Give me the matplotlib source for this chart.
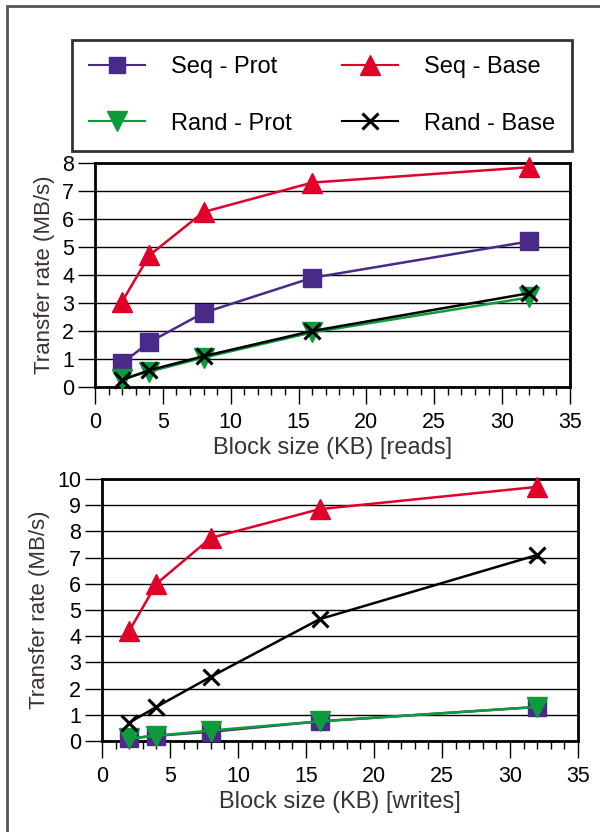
import numpy as np
import matplotlib.pyplot as plt
from matplotlib.patches import Rectangle
from matplotlib.lines import Line2D
from matplotlib.ticker import MultipleLocator

plt.rcParams['font.family'] = ['Liberation Sans', 'DejaVu Sans']

# block sizes (KB)
block = [2, 4, 8, 16, 32]

# reads, MB/s
read_seq_prot = [0.85, 1.6, 2.65, 3.9, 5.2]
read_seq_base = [3.05, 4.7, 6.25, 7.3, 7.85]
read_rand_prot = [0.3, 0.55, 1.05, 1.95, 3.2]
read_rand_base = [0.25, 0.6, 1.1, 2.0, 3.35]

# writes, MB/s
write_seq_prot = [0.1, 0.2, 0.35, 0.75, 1.3]
write_seq_base = [4.2, 6.0, 7.75, 8.85, 9.7]
write_rand_prot = [0.1, 0.2, 0.4, 0.75, 1.3]
write_rand_base = [0.7, 1.3, 2.45, 4.65, 7.1]

purple = '#4a2a88'
red = '#e0002a'
green = '#0f9a3c'
txt = '#3a3035'

styles = {
    'Seq - Prot': dict(color=purple, marker='s', ms=13),
    'Seq - Base': dict(color=red, marker='^', ms=15),
    'Rand - Prot': dict(color=green, marker='v', ms=15),
    'Rand - Base': dict(color='black', marker='x', ms=12, mew=2.2),
}

fig = plt.figure(figsize=(6, 8.32), dpi=100)

# outer frame
fig.patches.append(Rectangle((7 / 600, -0.1), 1.2, 1 - 6 / 832 + 0.1,
                             transform=fig.transFigure, fill=False,
                             edgecolor='#555555', lw=2))

ax1 = fig.add_axes([95 / 600, 1 - 387 / 832, 475 / 600, 224 / 832])
ax2 = fig.add_axes([102 / 600, 1 - 741 / 832, 476 / 600, 262 / 832])


def draw(ax, series, ymax, xlabel):
    # draw in order so the crosses end up on top
    for name in ['Seq - Base', 'Seq - Prot', 'Rand - Prot', 'Rand - Base']:
        st = styles[name]
        ax.plot(block, series[name], color=st['color'], lw=1.8,
                marker=st['marker'], ms=st['ms'], mew=st.get('mew', 1),
                clip_on=False, zorder=3)
    ax.set_xlim(0, 35)
    ax.set_ylim(0, ymax)
    ax.xaxis.set_major_locator(MultipleLocator(5))
    ax.xaxis.set_minor_locator(MultipleLocator(1))
    ax.yaxis.set_major_locator(MultipleLocator(1))
    ax.grid(axis='y', color='black', lw=1)
    ax.set_axisbelow(True)
    for s in ax.spines.values():
        s.set_linewidth(2)
    ax.tick_params(axis='x', which='major', length=12, width=1, direction='out',
                   labelsize=15.5, labelcolor='black', pad=6)
    ax.tick_params(axis='x', which='minor', length=6, width=1, direction='out')
    ax.tick_params(axis='y', length=12, width=1, direction='out',
                   labelsize=15.5, labelcolor='black', pad=3)
    ax.set_xlabel(xlabel, fontsize=17, color=txt, labelpad=3)
    ax.set_ylabel('Transfer rate (MB/s)', fontsize=16, color=txt, labelpad=5)


draw(ax1, {'Seq - Prot': read_seq_prot, 'Seq - Base': read_seq_base,
           'Rand - Prot': read_rand_prot, 'Rand - Base': read_rand_base},
     8, 'Block size (KB) [reads]')
draw(ax2, {'Seq - Prot': write_seq_prot, 'Seq - Base': write_seq_base,
           'Rand - Prot': write_rand_prot, 'Rand - Base': write_rand_base},
     10, 'Block size (KB) [writes]')

handles = []
for name in ['Seq - Prot', 'Rand - Prot', 'Seq - Base', 'Rand - Base']:
    st = styles[name]
    handles.append(Line2D([], [], color=st['color'], lw=1.5, marker=st['marker'],
                          ms=st['ms'] - 1, mew=st.get('mew', 1), label=name))

leg = fig.legend(handles=handles, ncol=2, loc='center',
                 bbox_to_anchor=(72 / 600, 1 - 148 / 832, 500 / 600, 105 / 832),
                 mode='expand', fontsize=17, frameon=True, fancybox=False,
                 edgecolor='black', handlelength=2.4, handletextpad=1.1,
                 labelspacing=1.45, borderpad=0.7, borderaxespad=0,
                 columnspacing=1.0)
leg.get_frame().set_linewidth(2)

fig.savefig('out.png', dpi=100)
